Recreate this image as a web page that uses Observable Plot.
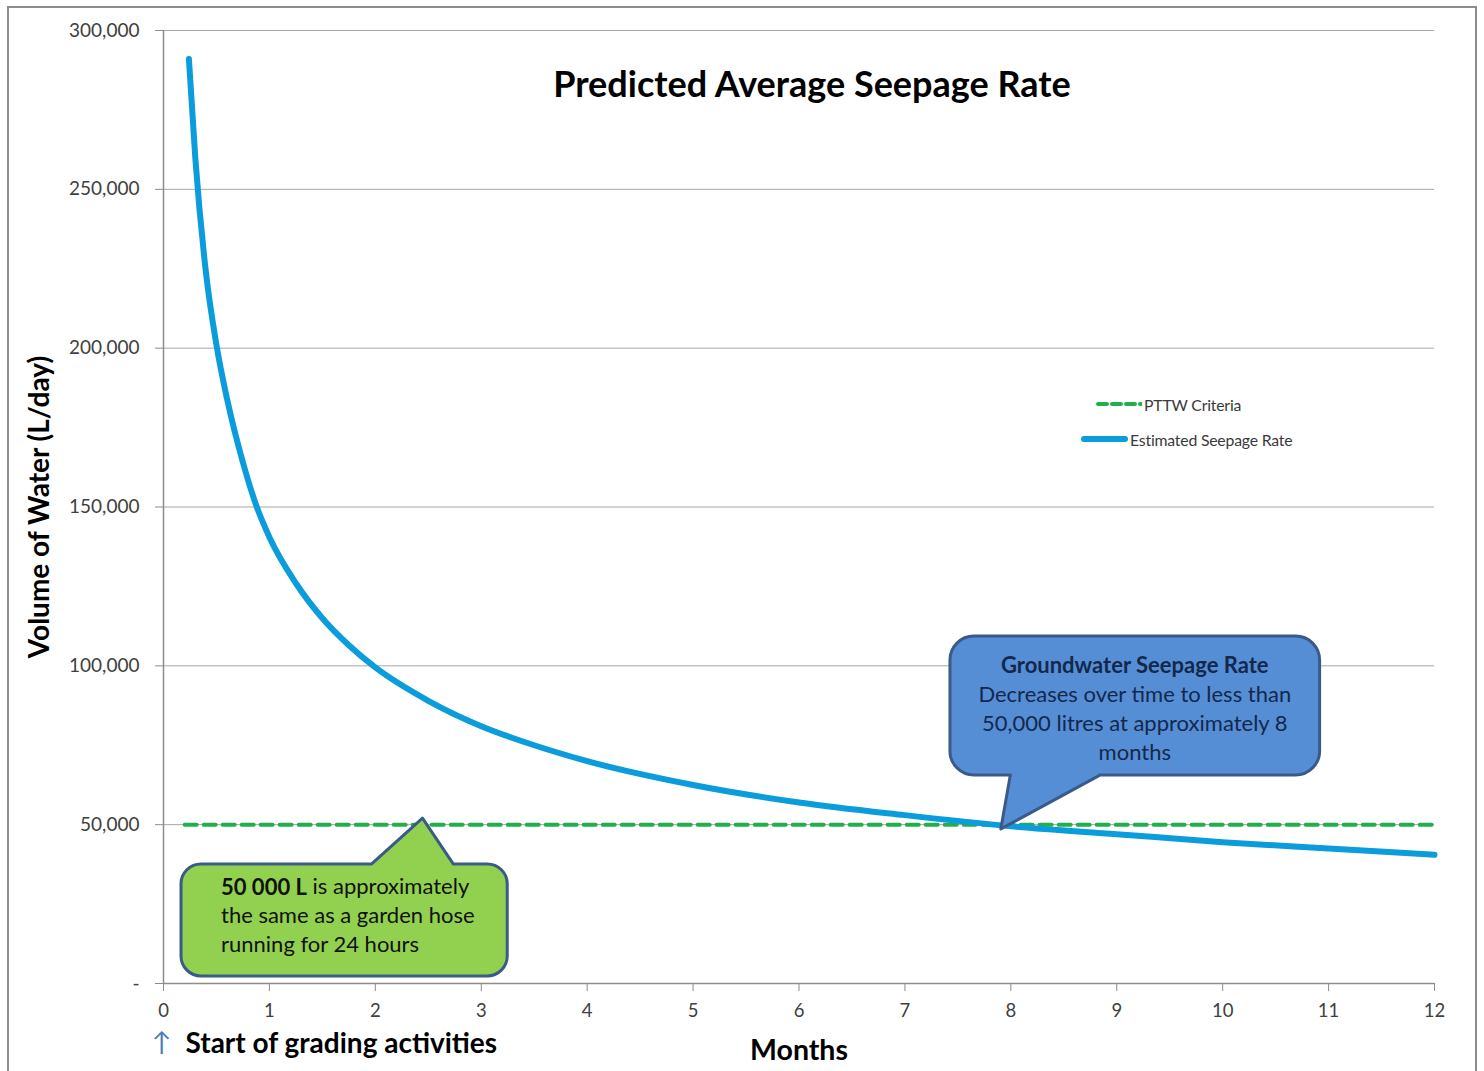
<!DOCTYPE html>
<html>
<head>
<meta charset="utf-8">
<script src="https://cdn.jsdelivr.net/npm/d3@7"></script>
<script src="https://cdn.jsdelivr.net/npm/@observablehq/plot@0.6"></script>
<style>
  html, body { margin: 0; padding: 0; background: #fff; }
  #wrap { position: relative; width: 1484px; height: 1071px; overflow: hidden; font-family: Lato, "Open Sans", sans-serif; }
  #frame { position: absolute; left: 7px; top: 6px; width: 1470px; height: 1080px; border: 2px solid #8c8c8c; box-sizing: border-box; }
  #chart { position: absolute; left: 0; top: 0; }
  .leg { position: absolute; display: flex; align-items: center; font-size: 15.8px; color: #3a3a3a; letter-spacing: -0.2px; }
  .leg svg { display: block; margin-right: 2px; }
</style>
</head>
<body>
<div id="wrap">
  <div id="frame"></div>
  <div id="chart"></div>
  <div class="leg" id="leg1" style="left:1096px; top:394px;"></div>
  <div class="leg" id="leg2" style="left:1080px; top:429px;"></div>
</div>
<script>
// ---- data ----
const months = [0.24, 0.3, 0.4, 0.5, 0.6, 0.75, 0.87, 1, 1.25, 1.5, 1.75, 2, 2.5, 3, 3.5, 4, 5, 6, 7, 8, 9, 10, 11, 12];
const seepage = [291000, 260000, 224000, 201000, 184000, 164000, 151000, 140500, 126000, 115000, 106500, 99500, 89000, 81000, 75000, 70000, 62500, 57000, 53000, 49500, 47000, 44500, 42500, 40500];
const criteriaMonths = [0.2, 12];
const criteriaValues = [50000, 50000];
const xTicks = [0, 1, 2, 3, 4, 5, 6, 7, 8, 9, 10, 11, 12];
const yTicks = [0, 50000, 100000, 150000, 200000, 250000, 300000];
const seriesNames = ["PTTW Criteria", "Estimated Seepage Rate"];
const chartTitle = "Predicted Average Seepage Rate";
const yLabel = "Volume of Water (L/day)";
const xLabel = "Months";
const startNote = "Start of grading activities";
const blueCallout = {
  lines: [[["Groundwater Seepage Rate", true]], [["Decreases over time to less than", false]], [["50,000 litres at approximately 8", false]], [["months", false]]],
  box: {x1: 7.43, x2: 10.92, yTop: 109200, yBottom: 65500, tipX: 7.91, tipY: 48500, base1: 8.0, base2: 8.85, side: "bottom"}
};
const greenCallout = {
  lines: [[["50 000 L", true], [" is approximately", false]], [["the same as a garden hose", false]], [["running for 24 hours", false]]],
  box: {x1: 0.17, x2: 3.25, yTop: 37500, yBottom: 2200, tipX: 2.45, tipY: 51900, base1: 1.97, base2: 2.74, side: "top"}
};

const BLUE = "#0b9ddb";
const GREEN = "#1fb04c";
const NS = "http://www.w3.org/2000/svg";

function calloutMark(spec, style) {
  return (index, scales) => {
    const {x, y} = scales;
    const b = spec.box;
    const x1 = x(b.x1), x2 = x(b.x2), yt = y(b.yTop), yb = y(b.yBottom);
    const tx = x(b.tipX), ty = y(b.tipY), b1 = x(b.base1), b2 = x(b.base2);
    const r = style.radius;
    const p = d3.path();
    p.moveTo(x1 + r, yt);
    if (b.side === "top") { p.lineTo(b1, yt); p.lineTo(tx, ty); p.lineTo(b2, yt); }
    p.lineTo(x2 - r, yt);
    p.arcTo(x2, yt, x2, yt + r, r);
    p.lineTo(x2, yb - r);
    p.arcTo(x2, yb, x2 - r, yb, r);
    if (b.side === "bottom") { p.lineTo(b2, yb); p.lineTo(tx, ty); p.lineTo(b1, yb); }
    p.lineTo(x1 + r, yb);
    p.arcTo(x1, yb, x1, yb - r, r);
    p.lineTo(x1, yt + r);
    p.arcTo(x1, yt, x1 + r, yt, r);
    p.closePath();
    const g = document.createElementNS(NS, "g");
    const path = document.createElementNS(NS, "path");
    path.setAttribute("d", p.toString());
    path.setAttribute("fill", style.fill);
    path.setAttribute("stroke", "#3b5a88");
    path.setAttribute("stroke-width", 3);
    path.setAttribute("stroke-linejoin", "round");
    g.appendChild(path);
    const text = document.createElementNS(NS, "text");
    text.setAttribute("font-size", style.fontSize);
    text.setAttribute("fill", style.color);
    text.setAttribute("text-anchor", style.anchor);
    const tx0 = style.anchor === "middle" ? (x1 + x2) / 2 : x1 + style.padX;
    spec.lines.forEach((parts, i) => {
      parts.forEach((part, j) => {
        const ts = document.createElementNS(NS, "tspan");
        if (j === 0) { ts.setAttribute("x", tx0); ts.setAttribute("y", yt + style.firstLine + i * style.lineHeight); }
        ts.setAttribute("font-weight", part[1] ? "bold" : "normal");
        ts.setAttribute("dominant-baseline", "middle");
        ts.textContent = part[0];
        ts.style.whiteSpace = "pre";
        text.appendChild(ts);
      });
    });
    g.appendChild(text);
    return g;
  };
}

const tickFmt = d => d === 0 ? "-" : d3.format(",")(d);

const chart = Plot.plot({
  width: 1484,
  height: 1071,
  marginLeft: 163,
  marginRight: 50,
  marginTop: 30,
  marginBottom: 88,
  style: {fontFamily: "Lato, 'Open Sans', sans-serif", background: "transparent", overflow: "visible"},
  x: {domain: [0, 12]},
  y: {domain: [0, 300000]},
  marks: [
    Plot.gridY(yTicks.filter(d => d > 0), {stroke: "#a6a6a6", strokeOpacity: 1, strokeWidth: 1}),
    Plot.axisY(yTicks, {tickSize: 8, tickPadding: 16, tickFormat: tickFmt, fontSize: 19, color: "#404040", stroke: "#8c8c8c", label: null}),
    Plot.axisX(xTicks, {tickSize: 8, tickPadding: 12, tickFormat: d => String(d), fontSize: 18.5, color: "#404040", stroke: "#8c8c8c", label: null}),
    Plot.ruleX([0], {stroke: "#8c8c8c", strokeWidth: 1.5}),
    Plot.ruleY([0], {stroke: "#8c8c8c", strokeWidth: 1.5}),
    Plot.line(criteriaValues, {x: criteriaMonths, y: criteriaValues, stroke: GREEN, strokeWidth: 4, strokeDasharray: "12 7"}),
    Plot.line(seepage, {x: months, y: seepage, stroke: BLUE, strokeWidth: 6, curve: "monotone-x", strokeLinecap: "round"}),
    calloutMark(blueCallout, {fill: "#558ed5", color: "#14284d", fontSize: 22, anchor: "middle", firstLine: 31, lineHeight: 29, radius: 24}),
    calloutMark(greenCallout, {fill: "#92d050", color: "#111", fontSize: 22, anchor: "start", padX: 40, firstLine: 25, lineHeight: 29, radius: 20}),
    Plot.text([chartTitle], {frameAnchor: "top", lineAnchor: "middle", dx: 13, dy: 55, fontSize: 36, fontWeight: "bold", fill: "#000"}),
    Plot.text([yLabel], {frameAnchor: "left", textAnchor: "middle", lineAnchor: "middle", dx: -123, rotate: -90, fontSize: 28, fontWeight: "bold", fill: "#000"}),
    Plot.text([xLabel], {frameAnchor: "bottom", lineAnchor: "middle", dx: 0, dy: 67, fontSize: 28.5, fontWeight: "bold", fill: "#000"}),
    Plot.text([startNote], {frameAnchor: "bottom-left", textAnchor: "start", lineAnchor: "middle", dx: 22, dy: 61, fontSize: 28, fontWeight: "bold", fill: "#000"}),
    Plot.text(["↑"], {frameAnchor: "bottom-left", textAnchor: "middle", lineAnchor: "middle", dx: -2, dy: 59, fontSize: 26, fill: "#4a7ebb"})
  ]
});
document.getElementById("chart").appendChild(chart);

// legend
function legendItem(el, name, kind) {
  const s = d3.select(el);
  const svg = s.append("svg").attr("width", kind === "dash" ? 46 : 48).attr("height", 20);
  if (kind === "dash") {
    svg.append("line").attr("x1", 2).attr("x2", 45).attr("y1", 10).attr("y2", 10)
      .attr("stroke", GREEN).attr("stroke-width", 4).attr("stroke-dasharray", "9 5").attr("stroke-linecap", "round");
  } else {
    svg.append("line").attr("x1", 4).attr("x2", 45).attr("y1", 10).attr("y2", 10)
      .attr("stroke", BLUE).attr("stroke-width", 6).attr("stroke-linecap", "round");
  }
  s.append("span").text(name);
}
legendItem(document.getElementById("leg1"), seriesNames[0], "dash");
legendItem(document.getElementById("leg2"), seriesNames[1], "solid");
</script>
</body>
</html>
